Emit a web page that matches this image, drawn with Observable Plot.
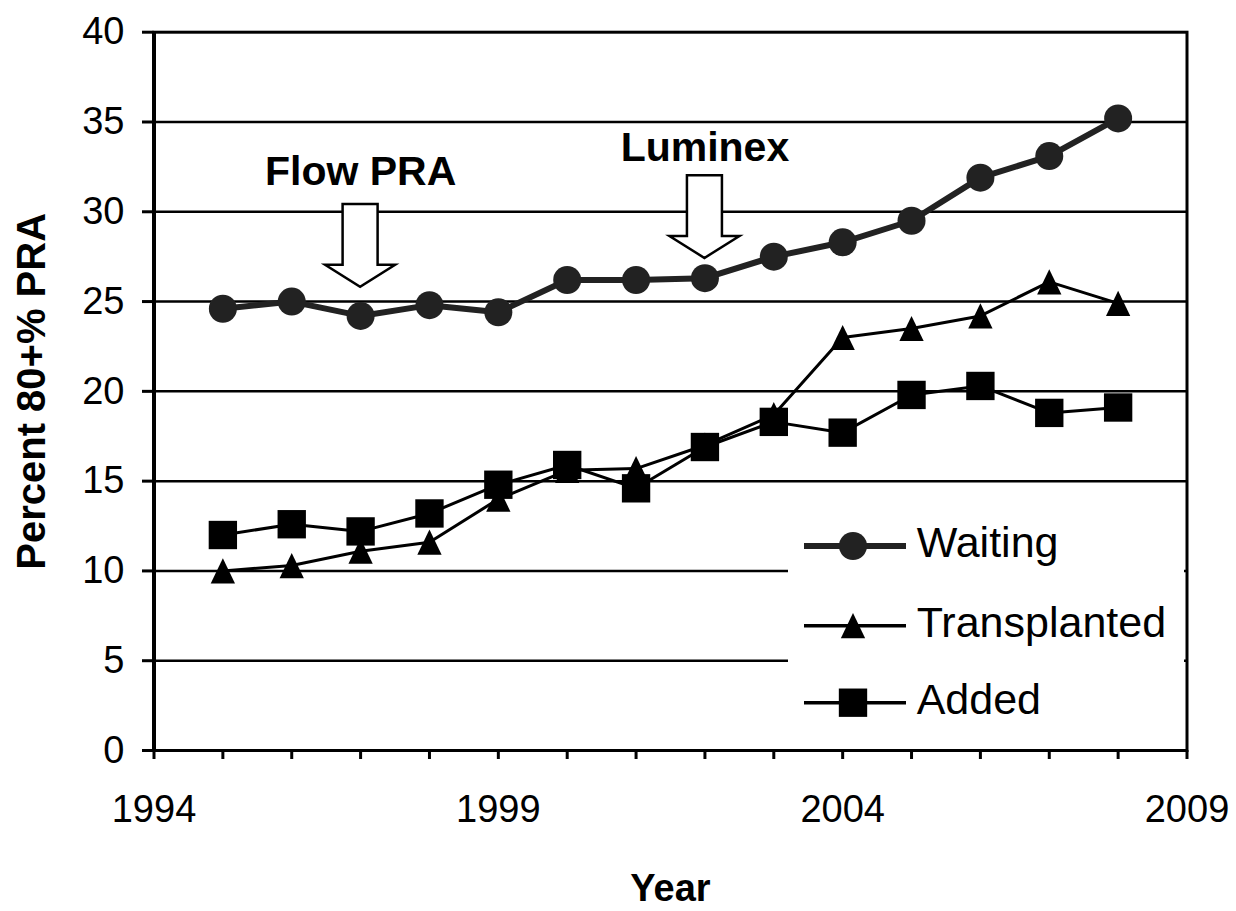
<!DOCTYPE html>
<html><head><meta charset="utf-8">
<script src="https://cdn.jsdelivr.net/npm/d3@7"></script>
<script src="https://cdn.jsdelivr.net/npm/@observablehq/plot@0.6"></script>
<style>
html,body{margin:0;padding:0;background:#fff;}
#wrap{position:relative;width:1236px;height:911px;font-family:"Liberation Sans",Arial,sans-serif;}
#legend{position:absolute;left:788px;top:490px;width:396px;height:257px;background:#fff;}
</style></head><body><div id="wrap"></div>
<script>
const years = [1995,1996,1997,1998,1999,2000,2001,2002,2003,2004,2005,2006,2007,2008];
const waiting = [24.6,25.0,24.2,24.8,24.4,26.2,26.2,26.3,27.5,28.3,29.5,31.9,33.1,35.2];
const transplanted = [10.0,10.3,11.1,11.6,14.0,15.6,15.7,17.0,18.7,23.0,23.5,24.2,26.1,24.9];
const added = [12.0,12.6,12.2,13.2,14.8,15.9,14.6,16.9,18.3,17.7,19.8,20.3,18.8,19.1];
const seriesNames = ["Waiting","Transplanted","Added"];
const yTicks = [0,5,10,15,20,25,30,35,40];
const xTicks = [1994,1995,1996,1997,1998,1999,2000,2001,2002,2003,2004,2005,2006,2007,2008,2009];
const xTickLabels = [1994,1999,2004,2009];
const yTitle = "Percent 80+% PRA";
const xTitle = "Year";
const annoLabels = ["Flow PRA","Luminex"];
const annoYears = [1997,2002];
const annoTop = [30.4,32.0];
const annoTip = [25.8,27.4];
const annoTextY = [31.5,32.8];

const mk = (vals, name) => years.map((yr,i)=>({year:yr, series:name, value:vals[i]}));
const wRows = mk(waiting, seriesNames[0]);
const tRows = mk(transplanted, seriesNames[1]);
const aRows = mk(added, seriesNames[2]);
const annos = annoLabels.map((l,i)=>({label:l, year:annoYears[i], top:annoTop[i], tip:annoTip[i], ty:annoTextY[i]}));

const triUp = {draw(ctx, size){ const r = Math.sqrt(size/Math.PI); const hw = 1.35*r, hh = 1.4*r;
  ctx.moveTo(0,-hh); ctx.lineTo(hw,hh); ctx.lineTo(-hw,hh); ctx.closePath(); }};

const FONT = '"Liberation Sans", Arial, sans-serif';
const chart = Plot.plot({
  width:1236, height:911,
  marginTop:31.7, marginBottom:161, marginLeft:153.5, marginRight:49.5,
  x:{domain:[1994,2009]},
  y:{domain:[0,40]},
  style:{fontFamily:FONT, fontSize:"38px", color:"#000", background:"#fff"},
  marks:[
    Plot.ruleY(yTicks.filter(v=>v>0 && v<40), {stroke:"#000", strokeWidth:2.5}),
    Plot.axisY({ticks:yTicks, tickSize:11.5, tickPadding:18, fontSize:38, strokeWidth:3, label:null}),
    Plot.axisX({ticks:xTicks, tickSize:9, tickPadding:36, fontSize:38, strokeWidth:3, label:null,
      tickFormat: d => xTickLabels.includes(d) ? String(d) : ""}),
    Plot.frame({stroke:"#000", strokeWidth:3}),
    Plot.ruleX([1994], {stroke:"#000", strokeWidth:4}),
    Plot.line(aRows, {x:"year", y:"value", stroke:"#000", strokeWidth:3}),
    Plot.line(tRows, {x:"year", y:"value", stroke:"#000", strokeWidth:3}),
    Plot.line(wRows, {x:"year", y:"value", stroke:"#222", strokeWidth:6}),
    Plot.dot(aRows, {x:"year", y:"value", symbol:"square", r:16, fill:"#000", stroke:"none"}),
    Plot.dot(tRows, {x:"year", y:"value", symbol:triUp, r:9, fill:"#000", stroke:"none"}),
    Plot.dot(wRows, {x:"year", y:"value", symbol:"circle", r:14, fill:"#222", stroke:"none"}),
    Plot.text(annos, {x:"year", y:"ty", text:"label", fontWeight:"bold", fontSize:41, lineAnchor:"bottom", textAnchor:"middle", fill:"#000"}),
    Plot.text([yTitle], {frameAnchor:"left", rotate:-90, dx:-122, textAnchor:"middle", lineAnchor:"middle", fontWeight:"bold", fontSize:40, fill:"#000"}),
    Plot.text([xTitle], {frameAnchor:"bottom", dy:150, lineAnchor:"bottom", textAnchor:"middle", fontWeight:"bold", fontSize:38, fill:"#000"})
  ]
});
document.getElementById("wrap").appendChild(chart);

// block arrows anchored in data coordinates
const sxr = chart.scale("x"), syr = chart.scale("y");
const lin = s => s.apply ? (v=>s.apply(v)) : (v => s.range[0] + (v - s.domain[0])/(s.domain[1]-s.domain[0])*(s.range[1]-s.range[0]));
const fx = lin(sxr), fy = lin(syr);
const svg = d3.select(chart.tagName.toLowerCase()==="svg" ? chart : chart.querySelector("svg"));
const bw = 17.5, hw = 35, hh = 22;
annos.forEach(a => {
  const cx = fx(a.year), top = fy(a.top), tip = fy(a.tip), sh = tip - hh;
  svg.append("path")
    .attr("d", `M${cx-bw},${top}H${cx+bw}V${sh}H${cx+hw}L${cx},${tip}L${cx-hw},${sh}H${cx-bw}Z`)
    .attr("fill","#fff").attr("stroke","#000").attr("stroke-width",2.5).attr("stroke-linejoin","miter");
});

// legend (white box, as in the original)
const leg = d3.select("#wrap").append("div").attr("id","legend");
const ls = leg.append("svg").attr("width",396).attr("height",257);
const rowY = [56, 135.7, 212.7];
const styles = [
  {stroke:"#222", sw:6, path:d3.symbol(d3.symbolCircle, Math.PI*14*14)(), fill:"#222"},
  {stroke:"#000", sw:3.5, path:d3.symbol(triUp, Math.PI*9*9)(), fill:"#000"},
  {stroke:"#000", sw:3.5, path:d3.symbol(d3.symbolSquare, Math.PI*16*16)(), fill:"#000"}
];
seriesNames.forEach((n,i) => {
  const g = ls.append("g").attr("transform", `translate(0,${rowY[i]})`);
  g.append("line").attr("x1",16).attr("x2",118).attr("y1",0).attr("y2",0).attr("stroke",styles[i].stroke).attr("stroke-width",styles[i].sw);
  g.append("path").attr("d",styles[i].path).attr("transform","translate(65,0)").attr("fill",styles[i].fill);
  g.append("text").attr("x",128.7).attr("y",11).attr("font-family",FONT).attr("font-size",43).attr("fill","#000").text(n);
});
</script></body></html>
